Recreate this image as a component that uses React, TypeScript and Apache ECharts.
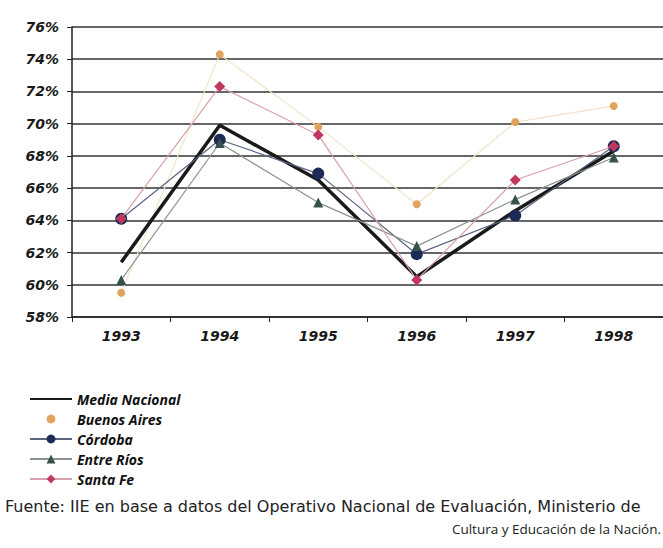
import React, { useEffect, useRef } from "react";
import * as echarts from "echarts";

const years = ["1993", "1994", "1995", "1996", "1997", "1998"];
const mediaNacional = [61.4, 69.9, 66.5, 60.5, 64.6, 68.3];
const buenosAires = [59.5, 74.3, 69.8, 65.0, 70.1, 71.1];
const cordoba = [64.1, 69.0, 66.9, 61.9, 64.3, 68.6];
const entreRios = [60.3, 68.8, 65.1, 62.4, 65.3, 67.9];
const santaFe = [64.1, 72.3, 69.3, 60.3, 66.5, 68.6];

const sourceLine1 = "Fuente: IIE en base a datos del Operativo Nacional de Evaluación, Ministerio de";
const sourceLine2 = "Cultura y Educación de la Nación.";

const FONT = "'Open Sans', 'DejaVu Sans', sans-serif";
const AXFONT = "'DejaVu Sans', sans-serif";

export default function App() {
  const ref = useRef<HTMLDivElement>(null);
  useEffect(() => {
    if (!ref.current) return;
    const chart = echarts.init(ref.current, null, { renderer: "svg" });
    chart.setOption({
      animation: false,
      backgroundColor: "#ffffff",
      grid: { left: 72, right: -2, top: 27, height: 290 },
      xAxis: {
        type: "category",
        data: years,
        boundaryGap: true,
        axisLine: { lineStyle: { color: "#222", width: 1.5 } },
        axisTick: { show: true, length: 5, lineStyle: { color: "#222" } },
        axisLabel: {
          margin: 12,
          color: "#1a1a1a",
          fontFamily: AXFONT,
          fontStyle: "italic",
          fontWeight: "bold",
          fontSize: 14,
        },
      },
      yAxis: {
        type: "value",
        min: 58,
        max: 76,
        interval: 2,
        axisLine: { show: true, lineStyle: { color: "#222", width: 1.5 } },
        axisTick: { show: true, length: 5, lineStyle: { color: "#222" } },
        splitLine: { show: true, lineStyle: { color: "#333", width: 1.6 } },
        axisLabel: {
          formatter: "{value}%",
          margin: 13,
          color: "#1a1a1a",
          fontFamily: AXFONT,
          fontStyle: "italic",
          fontWeight: "bold",
          fontSize: 14,
        },
      },
      legend: {
        orient: "vertical",
        left: 24,
        top: 387,
        itemWidth: 42,
        itemHeight: 11,
        itemGap: 6,
        textStyle: {
          color: "#111",
          fontFamily: FONT,
          fontStyle: "italic",
          fontWeight: "bold",
          fontSize: 14,
        },
        data: [
          { name: "Media Nacional", itemStyle: { opacity: 0 } },
          { name: "Buenos Aires", lineStyle: { opacity: 0 } },
          "Córdoba",
          "Entre Ríos",
          "Santa Fe",
        ],
      },
      series: [
        {
          name: "Media Nacional",
          type: "line",
          data: mediaNacional,
          symbol: "none",
          lineStyle: { color: "#1a1a1a", width: 3.5 },
          itemStyle: { color: "#1a1a1a" },
          z: 3,
        },
        {
          name: "Buenos Aires",
          type: "line",
          data: buenosAires,
          symbol: "circle",
          symbolSize: 8,
          lineStyle: { color: "#f3e3c8", width: 1.2 },
          itemStyle: { color: "#e2a35e" },
          z: 2,
        },
        {
          name: "Córdoba",
          type: "line",
          data: cordoba,
          symbol: "circle",
          symbolSize: 12,
          lineStyle: { color: "#5a6680", width: 1.2 },
          itemStyle: { color: "#1c2a55" },
          z: 4,
        },
        {
          name: "Entre Ríos",
          type: "line",
          data: entreRios,
          symbol: "triangle",
          symbolSize: 10,
          lineStyle: { color: "#8a948e", width: 1.2 },
          itemStyle: { color: "#34524a" },
          z: 5,
        },
        {
          name: "Santa Fe",
          type: "line",
          data: santaFe,
          symbol: "diamond",
          symbolSize: 11,
          lineStyle: { color: "#d8a0ae", width: 1.2 },
          itemStyle: { color: "#c0385e" },
          z: 6,
        },
      ],
      graphic: [
        {
          type: "text",
          left: 5,
          top: 498,
          style: {
            text: sourceLine1,
            fill: "#222",
            font: `16px ${AXFONT}`,
          },
        },
        {
          type: "text",
          right: 2,
          top: 522,
          style: {
            text: sourceLine2,
            fill: "#222",
            font: `13.5px ${FONT}`,
          },
        },
      ],
    });
    return () => chart.dispose();
  }, []);
  return <div ref={ref} style={{ width: 663, height: 548, position: "absolute", left: 0, top: 0 }} />;
}
